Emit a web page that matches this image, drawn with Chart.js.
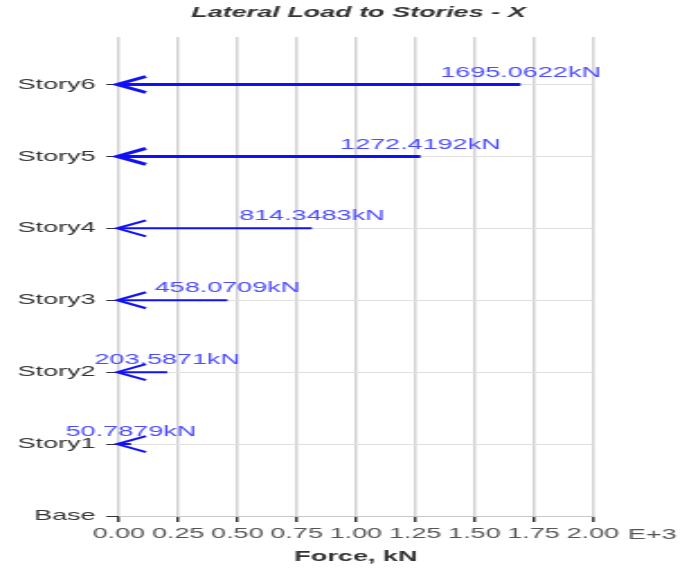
<!DOCTYPE html>
<html>
<head>
<meta charset="utf-8">
<script src="https://cdn.jsdelivr.net/npm/chart.js@4.4.1/dist/chart.umd.min.js"></script>
<style>
  html, body { margin: 0; padding: 0; background: #fff; overflow: hidden; }
  /* the original picture is stretched sideways, so the chart is drawn narrow and widened */
  #wrap { width: 378px; height: 569px; transform: scaleX(1.799); transform-origin: 0 0; }
</style>
</head>
<body>
<div id="wrap"><canvas id="chart" width="378" height="569"></canvas></div>
<script>
// story levels, bottom to top
const stories = ["Base", "Story1", "Story2", "Story3", "Story4", "Story5", "Story6"];
// lateral load at each story (kN), Story1..Story6
const loadsKN = [50.7879, 203.5871, 458.0709, 814.3483, 1272.4192, 1695.0622];
// x axis ticks, in E+3 kN
const xTicks = [0, 0.25, 0.5, 0.75, 1.0, 1.25, 1.5, 1.75, 2.0];
const xExponent = "E+3";
const chartTitle = "Lateral Load to Stories - X";

const font = "'Liberation Sans', Arial, sans-serif";
const arrowBlue = "#1010f5";
const labelBlue = "#4b4bff";

const datasets = loadsKN.map((load, i) => ({
  label: stories[i + 1],
  data: [
    { x: 0, y: i + 1 },
    { x: load / 1000, y: i + 1 },
  ],
  borderColor: arrowBlue,
  borderWidth: i >= 4 ? 3 : 2,
  pointRadius: 0,
  fill: false,
}));

// arrowheads at the zero end, value labels at the far end, title and axis exponent
const arrowPlugin = {
  id: "arrows",
  afterDatasetsDraw(chart) {
    const ctx = chart.ctx;
    ctx.save();
    chart.data.datasets.forEach((ds, i) => {
      const meta = chart.getDatasetMeta(i);
      const start = meta.data[0];
      const end = meta.data[1];
      ctx.strokeStyle = arrowBlue;
      ctx.lineWidth = ds.borderWidth;
      ctx.beginPath();
      ctx.moveTo(start.x + 15, start.y - 8);
      ctx.lineTo(start.x - 1, start.y);
      ctx.lineTo(start.x + 15, start.y + 8);
      ctx.stroke();

      ctx.fillStyle = labelBlue;
      ctx.font = "15px " + font;
      ctx.textAlign = "center";
      ctx.textBaseline = "middle";
      ctx.fillText(loadsKN[i].toFixed(4) + "kN", end.x, end.y - 12);
    });
    ctx.restore();
  },
  afterDraw(chart) {
    const ctx = chart.ctx;
    const xs = chart.scales.x;
    ctx.save();
    ctx.font = "15px " + font;
    ctx.fillStyle = "#555";
    ctx.textAlign = "left";
    ctx.textBaseline = "middle";
    const lastLabel = xTicks[xTicks.length - 1].toFixed(2);
    const x = xs.getPixelForValue(xTicks[xTicks.length - 1]) + ctx.measureText(lastLabel).width / 2 + 5;
    ctx.fillText(xExponent, x, xs.top + 19);

    ctx.font = "italic bold 15px " + font;
    ctx.fillStyle = "#333";
    ctx.textAlign = "center";
    ctx.fillText(chartTitle, chart.width * 0.527, 13);
    ctx.restore();
  },
};

new Chart(document.getElementById("chart"), {
  type: "line",
  data: { datasets },
  options: {
    responsive: false,
    animation: false,
    devicePixelRatio: 1,
    layout: { padding: { left: 0, right: 48.5, top: 37, bottom: 0 } },
    plugins: {
      legend: { display: false },
      tooltip: { enabled: false },
      title: { display: false },
    },
    scales: {
      x: {
        type: "linear",
        min: 0,
        max: 2,
        afterFit: (scale) => { scale.height = 53; },
        afterBuildTicks: (scale) => { scale.ticks = xTicks.map((v) => ({ value: v })); },
        ticks: {
          color: "#555",
          font: { family: font, size: 15 },
          padding: 3,
          maxRotation: 0,
          autoSkip: false,
          callback: (v) => Number(v).toFixed(2),
        },
        grid: { color: "#d2d2d2", lineWidth: 1.5, tickColor: "#333", tickLength: 6 },
        border: { color: "#c8c8c8", width: 1 },
        title: {
          display: true,
          text: "Force, kN",
          color: "#333",
          font: { family: font, size: 15, weight: "bold" },
          padding: { top: 0, bottom: 3 },
        },
      },
      y: {
        type: "linear",
        min: 0,
        max: 6.66,
        afterFit: (scale) => { scale.width = 66.1; },
        afterBuildTicks: (scale) => { scale.ticks = stories.map((s, i) => ({ value: i })); },
        ticks: {
          color: "#333",
          font: { family: font, size: 15 },
          padding: 6,
          autoSkip: false,
          callback: (v) => stories[v],
        },
        grid: { color: "#e0e0e0", lineWidth: 1, tickColor: "#333", tickLength: 7 },
        border: { display: false },
      },
    },
  },
  plugins: [arrowPlugin],
});
</script>
</body>
</html>
